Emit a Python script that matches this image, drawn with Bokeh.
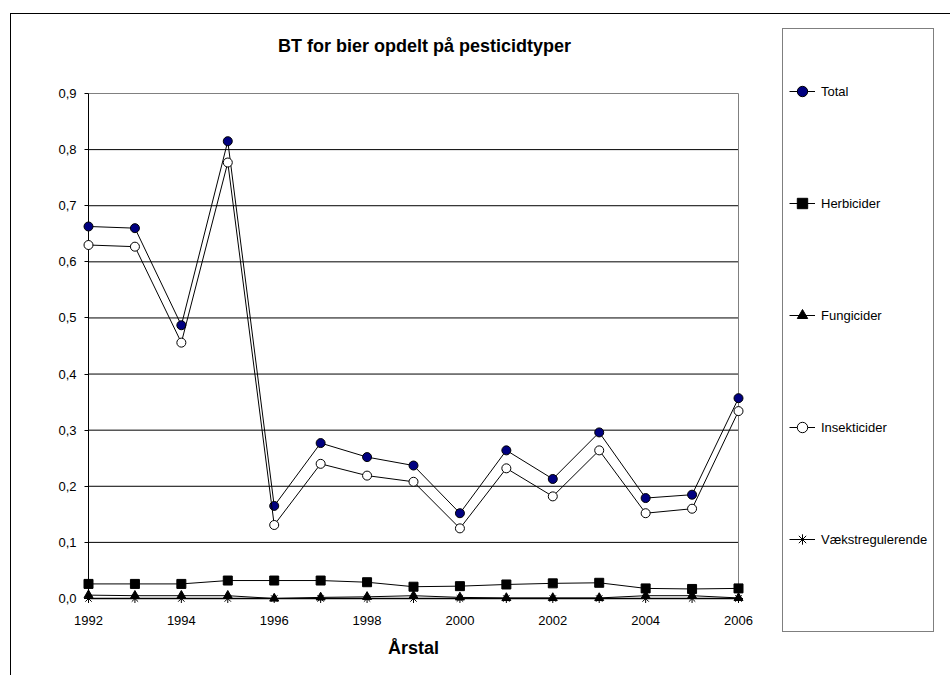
from bokeh.plotting import figure
from bokeh.models import Range1d, FixedTicker, Label, Legend, LegendItem
from bokeh.embed import file_html
from bokeh.resources import INLINE

# ---- data ----
years = [1992, 1993, 1994, 1995, 1996, 1997, 1998, 1999, 2000, 2001, 2002, 2003, 2004, 2005, 2006]
total = [0.663, 0.660, 0.487, 0.815, 0.165, 0.277, 0.252, 0.237, 0.152, 0.264, 0.213, 0.296, 0.179, 0.185, 0.357]
herbicider = [0.026, 0.026, 0.026, 0.032, 0.032, 0.032, 0.029, 0.021, 0.022, 0.025, 0.027, 0.028, 0.018, 0.017, 0.018]
fungicider = [0.006, 0.005, 0.005, 0.005, 0.000, 0.002, 0.003, 0.005, 0.002, 0.001, 0.001, 0.001, 0.005, 0.005, 0.001]
insekticider = [0.630, 0.627, 0.456, 0.777, 0.131, 0.240, 0.219, 0.208, 0.125, 0.232, 0.182, 0.264, 0.152, 0.160, 0.334]
vaekstregulerende = [0.0, 0.0, 0.0, 0.0, 0.0, 0.0, 0.0, 0.0, 0.0, 0.0, 0.0, 0.0, 0.0, 0.0, 0.0]

x_ticks = [1992, 1994, 1996, 1998, 2000, 2002, 2004, 2006]
y_ticks = [0.0, 0.1, 0.2, 0.3, 0.4, 0.5, 0.6, 0.7, 0.8, 0.9]
y_labels = ["0,0", "0,1", "0,2", "0,3", "0,4", "0,5", "0,6", "0,7", "0,8", "0,9"]

title_text = "BT for bier opdelt på pesticidtyper"
x_title = "Årstal"
series_names = ["Total", "Herbicider", "Fungicider", "Insekticider", "Vækstregulerende"]

FONT = "Liberation Sans"

# ---- layout (pixels in the page) ----
CANVAS_L, CANVAS_T, CANVAS_W, CANVAS_H = 11, 14, 940, 662
FRAME_L, FRAME_R, FRAME_T, FRAME_B = 30, 947, 22, 668      # drawing area
AREA_L, AREA_R, AREA_T, AREA_B = 88, 738, 93, 598          # plot area (1992..2006, 0..0.9)

x_min, x_max = years[0], years[-1]
y_min, y_max = y_ticks[0], y_ticks[-1]
px_per_x = (AREA_R - AREA_L) / (x_max - x_min)
px_per_y = (AREA_B - AREA_T) / (y_max - y_min)

x_range = Range1d(x_min - (AREA_L - FRAME_L) / px_per_x, x_max + (FRAME_R - AREA_R) / px_per_x)
y_range = Range1d(y_min - (FRAME_B - AREA_B) / px_per_y, y_max + (AREA_T - FRAME_T) / px_per_y)

p = figure(
    width=CANVAS_W, height=CANVAS_H,
    min_border_left=FRAME_L - CANVAS_L, min_border_right=CANVAS_L + CANVAS_W - FRAME_R,
    min_border_top=FRAME_T - CANVAS_T, min_border_bottom=CANVAS_T + CANVAS_H - FRAME_B,
    x_range=x_range, y_range=y_range,
    output_backend="svg", toolbar_location=None,
    styles={"border-left": "1px solid black", "border-top": "1px solid black",
            "margin-left": "10px", "margin-top": "13px"},
)
p.title = None
p.outline_line_color = None
p.background_fill_color = "white"
p.border_fill_color = "white"
p.grid.visible = False

# x axis sits at y = 0 inside the drawing area
p.xaxis.ticker = FixedTicker(ticks=x_ticks)
p.xaxis.fixed_location = y_min
p.xaxis.bounds = (x_min, x_max)
p.xaxis.axis_line_color = None
p.xaxis.major_tick_line_color = None
p.xaxis.minor_tick_line_color = None
p.xaxis.major_label_text_font = FONT
p.xaxis.major_label_text_font_size = "13px"
p.xaxis.major_label_text_color = "black"
p.xaxis.major_label_standoff = 11
p.xaxis.axis_label = x_title
p.xaxis.axis_label_text_font = FONT
p.xaxis.axis_label_text_font_style = "bold"
p.xaxis.axis_label_text_font_size = "18px"
p.xaxis.axis_label_text_color = "black"
p.xaxis.axis_label_standoff = 10

# y axis sits at x = 1992 inside the drawing area
p.yaxis.ticker = FixedTicker(ticks=y_ticks)
p.yaxis.fixed_location = x_min
p.yaxis.bounds = (y_min, y_max)
p.yaxis.major_label_overrides = {t: s for t, s in zip(y_ticks, y_labels)}
p.yaxis.axis_line_color = None
p.yaxis.major_tick_in = 0
p.yaxis.major_tick_out = 4
p.yaxis.major_tick_line_color = "black"
p.yaxis.minor_tick_line_color = None
p.yaxis.major_label_text_font = FONT
p.yaxis.major_label_text_font_size = "13px"
p.yaxis.major_label_text_color = "black"
p.yaxis.major_label_standoff = 8

# horizontal gridlines across the plot area only (top one is the grey border)
grid_y = y_ticks[1:-1]
p.segment(x0=[x_min] * len(grid_y), y0=grid_y, x1=[x_max] * len(grid_y), y1=grid_y,
          line_color="black", line_width=1)
p.segment(x0=[x_min], y0=[y_max], x1=[x_max], y1=[y_max], line_color="#808080", line_width=1)
p.segment(x0=[x_max], y0=[y_min], x1=[x_max], y1=[y_max], line_color="#808080", line_width=1)
p.segment(x0=[x_min], y0=[y_min], x1=[x_min], y1=[y_max], line_color="black", line_width=1)
p.segment(x0=[x_min], y0=[y_min], x1=[x_max], y1=[y_min], line_color="black", line_width=1.5)

# series
specs = [
    (total, "circle", "#000080", 9),
    (herbicider, "square", "black", 9),
    (fungicider, "triangle", "black", 9),
    (insekticider, "circle", "white", 9),
    (vaekstregulerende, "asterisk", "black", 9),
]
items = []
for name, (vals, marker, fill, size) in zip(series_names, specs):
    ln = p.line(years, vals, line_color="black", line_width=1)
    sc = p.scatter(years, vals, marker=marker, size=size, fill_color=fill,
                   line_color="black", line_width=1)
    items.append(LegendItem(label=name, renderers=[ln, sc]))

LEG_L, LEG_B = 782, 632
legend = Legend(
    items=items, location=(LEG_L - FRAME_L, FRAME_B - LEG_B), margin=0, padding=6,
    spacing=0, ncols=1,
    glyph_width=26, glyph_height=112, label_height=112, label_standoff=6,
    label_text_font=FONT, label_text_font_size="13px", label_text_color="black",
    border_line_color="black", border_line_width=1,
    background_fill_color="white", background_fill_alpha=1,
    title=" ", title_location="below", title_standoff=15,
    title_text_font_size="13px",
)
p.add_layout(legend)

# chart title
TITLE_CX, TITLE_CY = 424, 45
p.add_layout(Label(
    x=x_min + (TITLE_CX - AREA_L) / px_per_x,
    y=y_min + (AREA_B - TITLE_CY) / px_per_y,
    text=title_text, text_font=FONT, text_font_style="bold", text_font_size="18px",
    text_align="center", text_baseline="middle", text_color="black",
))

open("out.html", "w").write(file_html(p, INLINE))
